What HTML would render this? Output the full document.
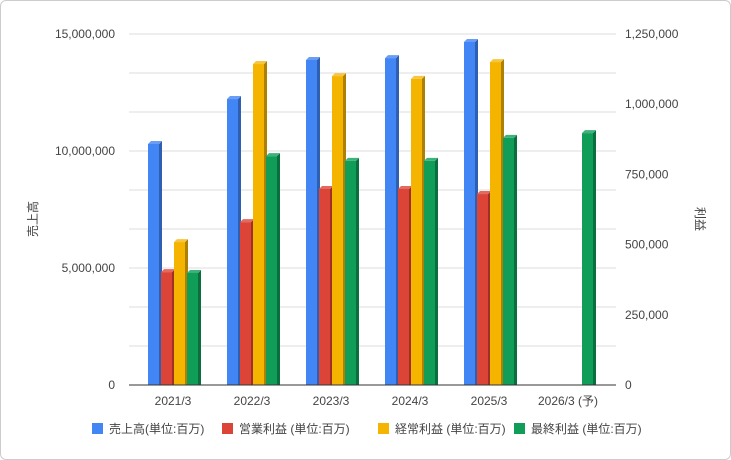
<!DOCTYPE html>
<html><head><meta charset="utf-8"><style>
body{margin:0;background:#fff;font-family:"Liberation Sans","Noto Sans CJK JP",sans-serif}
#wrap{position:relative;width:729px;height:458px;border:1px solid #ccc;border-radius:6px;overflow:hidden}
svg text{font-family:"Liberation Sans","Noto Sans CJK JP",sans-serif;font-size:12px;fill:#444}
</style></head><body>
<div id="wrap">
<svg id="chart" width="731" height="460"></svg>
</div>
<script>
const categories=["2021/3","2022/3","2023/3","2024/3","2025/3","2026/3 (予)"];
const sales=[10300000,12220000,13890000,13970000,14660000,null];
const opProfit=[402000,580000,698000,698000,680000,null];
const ordProfit=[509000,1143000,1100000,1090000,1150000,null];
const netProfit=[399000,815000,798000,798000,880000,897000];
const leftTicks=["0","5,000,000","10,000,000","15,000,000"];
const rightTicks=["0","250,000","500,000","750,000","1,000,000","1,250,000"];
const seriesNames=["売上高(単位:百万)","営業利益 (単位:百万)","経常利益 (単位:百万)","最終利益 (単位:百万)"];
const NS="http://www.w3.org/2000/svg";
const svg=document.getElementById('chart');
const top0=33,bot=384,left=132.5,step=79;
const yL=v=>bot-v/15000000*(bot-top0);
const yR=v=>bot-v/1250000*(bot-top0);
function mk(t,a,p){const e=document.createElementNS(NS,t);for(const k in a)e.setAttribute(k,a[k]);(p||svg).appendChild(e);return e;}
for(let i=1;i<=9;i++){const y=bot-i*(bot-top0)/9;
const g=mk('line',{x1:128,x2:615,y1:y,y2:y,stroke:'#ddd'});

}
leftTicks.forEach((t,i)=>{const e=mk('text',{x:114,y:yL(i*5000000)+4,'text-anchor':'end'});e.textContent=t;

});
rightTicks.forEach((t,i)=>{const e=mk('text',{x:624,y:yR(i*250000)+4});e.textContent=t;

});
const cols=[["#4285f4","#2f5fb0","#6a9df6"],["#db4437","#9e3027","#e36a5f"],["#f4b400","#ad8000","#f6c640"],["#0f9d58","#0a6e3e","#3fb17a"]];
const data=[[sales,yL],[opProfit,yR],[ordProfit,yR],[netProfit,yR]];
categories.forEach((c,i)=>{
 const gx=left+i*step+14.5;
 data.forEach(([arr,f],s)=>{const v=arr[i];if(v==null)return;
  const x=gx+s*13,y=f(v),w=11,d=3;
  const g=mk('g',{});
  
  
  mk('polygon',{points:`${x+w},${y} ${x+w+d},${y-d} ${x+w+d},${bot} ${x+w},${bot}`,fill:cols[s][1]},g);
  mk('polygon',{points:`${x},${y} ${x+d},${y-d} ${x+w+d},${y-d} ${x+w},${y}`,fill:cols[s][2]},g);
  mk('rect',{x:x,y:y,width:w,height:bot-y,fill:cols[s][0]},g);
 });
 const t=mk('text',{x:left+i*step+39.5,y:404,'text-anchor':'middle'});t.textContent=c;
 
 
});
const base=mk('line',{x1:128,x2:615,y1:bot,y2:bot,stroke:'#333'});


const yl=mk('text',{x:36,y:218,transform:'rotate(-90 36 218)','text-anchor':'middle'});yl.textContent='売上高';


const yr=mk('text',{x:695,y:218,transform:'rotate(90 695 218)','text-anchor':'middle'});yr.textContent='利益';


const lx=[91,221,377,513];
seriesNames.forEach((n,s)=>{
 const g=mk('g',{});
 
 
 mk('rect',{x:lx[s],y:422,width:11,height:11,fill:cols[s][0]},g);
 const t=mk('text',{x:lx[s]+17,y:432},g);t.textContent=n;
});
</script>
</body></html>
